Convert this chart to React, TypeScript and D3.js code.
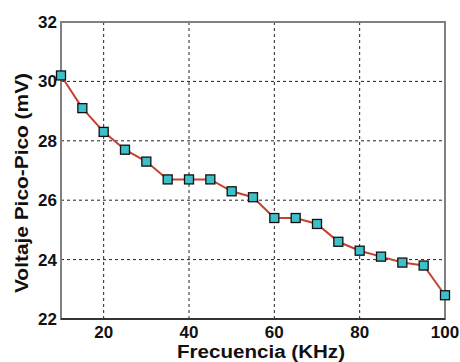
import React, { useEffect, useRef } from 'react';
import * as d3 from 'd3';

const frequencies = [10, 15, 20, 25, 30, 35, 40, 45, 50, 55, 60, 65, 70, 75, 80, 85, 90, 95, 100];
const voltages = [30.2, 29.1, 28.3, 27.7, 27.3, 26.7, 26.7, 26.7, 26.3, 26.1, 25.4, 25.4, 25.2, 24.6, 24.3, 24.1, 23.9, 23.8, 22.8];
const xTicks = [20, 40, 60, 80, 100];
const yTicks = [22, 24, 26, 28, 30, 32];

const W = 460;
const H = 362;

export default function App() {
  const svgRef = useRef<SVGSVGElement>(null);

  useEffect(() => {
    if (!svgRef.current) return;
    const svg = d3.select(svgRef.current);
    svg.selectAll('*').remove();

    const margin = { top: 22, right: 15, bottom: 43, left: 61 };
    const x = d3.scaleLinear().domain([10, 100]).range([margin.left, W - margin.right]);
    const y = d3.scaleLinear().domain([22, 32]).range([H - margin.bottom, margin.top]);
    const font = 'Arial, "Liberation Sans", Helvetica, sans-serif';

    svg.append('rect').attr('width', W).attr('height', H).attr('fill', '#fff');

    // grid
    const grid = svg.append('g').attr('stroke', '#222').attr('stroke-width', 1).attr('stroke-dasharray', '3,3');
    grid.selectAll('.gx')
      .data(xTicks.filter(t => t < 100))
      .enter()
      .append('line')
      .attr('x1', d => x(d)).attr('x2', d => x(d))
      .attr('y1', y(22)).attr('y2', y(32));
    grid.selectAll('.gy')
      .data(yTicks.filter(t => t > 22 && t < 32))
      .enter()
      .append('line')
      .attr('x1', x(10)).attr('x2', x(100))
      .attr('y1', d => y(d)).attr('y2', d => y(d));

    // frame
    svg.append('rect')
      .attr('x', x(10)).attr('y', y(32))
      .attr('width', x(100) - x(10)).attr('height', y(22) - y(32))
      .attr('fill', 'none').attr('stroke', '#808080').attr('stroke-width', 2);
    svg.append('line')
      .attr('x1', x(10)).attr('x2', x(100)).attr('y1', y(22)).attr('y2', y(22))
      .attr('stroke', '#333').attr('stroke-width', 2);

    // tick labels
    svg.selectAll('.xt')
      .data(xTicks)
      .enter()
      .append('text')
      .attr('x', d => x(d))
      .attr('y', 338)
      .attr('text-anchor', 'middle')
      .style('font-family', font)
      .style('font-weight', 'bold')
      .style('font-size', '17px')
      .style('fill', '#111')
      .text(d => d);
    svg.selectAll('.yt')
      .data(yTicks)
      .enter()
      .append('text')
      .attr('x', 57)
      .attr('y', d => y(d) + 6)
      .attr('text-anchor', 'end')
      .style('font-family', font)
      .style('font-weight', 'bold')
      .style('font-size', '17px')
      .style('fill', '#111')
      .text(d => d);

    // axis titles
    svg.append('text')
      .attr('x', 261)
      .attr('y', 358)
      .attr('text-anchor', 'middle')
      .attr('textLength', 168)
      .attr('lengthAdjust', 'spacingAndGlyphs')
      .style('font-family', font)
      .style('font-weight', 'bold')
      .style('font-size', '18px')
      .style('fill', '#111')
      .text('Frecuencia (KHz)');
    svg.append('text')
      .attr('transform', 'translate(28,183) rotate(-90)')
      .attr('text-anchor', 'middle')
      .attr('textLength', 220)
      .attr('lengthAdjust', 'spacingAndGlyphs')
      .style('font-family', font)
      .style('font-weight', 'bold')
      .style('font-size', '18px')
      .style('fill', '#111')
      .text('Voltaje Pico-Pico (mV)');

    const pts = frequencies.map((f, i) => [f, voltages[i]] as [number, number]);
    const line = d3.line<[number, number]>().x(d => x(d[0])).y(d => y(d[1]));
    svg.append('path')
      .attr('d', line(pts))
      .attr('fill', 'none')
      .attr('stroke', '#c8402f')
      .attr('stroke-width', 2);

    const s = 9;
    svg.selectAll('.pt')
      .data(pts)
      .enter()
      .append('rect')
      .attr('x', d => x(d[0]) - s / 2)
      .attr('y', d => y(d[1]) - s / 2)
      .attr('width', s)
      .attr('height', s)
      .attr('fill', '#3fbfc9')
      .attr('stroke', '#111')
      .attr('stroke-width', 1.3);
  }, []);

  return (
    <div style={{ position: 'absolute', left: 0, top: 0, width: W, height: H, overflow: 'hidden' }}>
      <svg ref={svgRef} width={W} height={H} style={{ display: 'block' }}></svg>
    </div>
  );
}
